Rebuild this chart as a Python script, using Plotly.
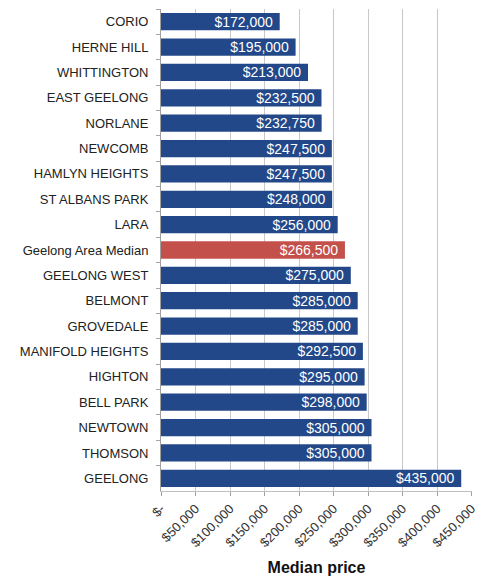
import plotly.graph_objects as go

suburbs = ["CORIO", "HERNE HILL", "WHITTINGTON", "EAST GEELONG", "NORLANE", "NEWCOMB",
           "HAMLYN HEIGHTS", "ST ALBANS PARK", "LARA", "Geelong Area Median", "GEELONG WEST",
           "BELMONT", "GROVEDALE", "MANIFOLD HEIGHTS", "HIGHTON", "BELL PARK", "NEWTOWN",
           "THOMSON", "GEELONG"]
prices = [172000, 195000, 213000, 232500, 232750, 247500, 247500, 248000, 256000, 266500,
          275000, 285000, 285000, 292500, 295000, 298000, 305000, 305000, 435000]
highlight = "Geelong Area Median"
tick_vals = [0, 50000, 100000, 150000, 200000, 250000, 300000, 350000, 400000, 450000]
tick_text = ["$-", "$50,000", "$100,000", "$150,000", "$200,000", "$250,000", "$300,000",
             "$350,000", "$400,000", "$450,000"]

colors = ["#c4504c" if s == highlight else "#22488a" for s in suburbs]
labels = ["${:,}\u00a0".format(p) for p in prices]

fig = go.Figure(go.Bar(
    x=prices, y=suburbs, orientation="h",
    marker=dict(color=colors, line=dict(width=0)),
    text=labels, textposition="inside", insidetextanchor="end",
    textfont=dict(color="white", size=14, family="Liberation Sans"),
    constraintext="none",
    width=0.68,
))

fig.update_layout(
    width=479, height=576,
    margin=dict(l=161, r=7, t=9, b=85),
    paper_bgcolor="white", plot_bgcolor="white",
    showlegend=False,
    font=dict(family="Liberation Sans", size=13, color="#222222"),
)
fig.update_yaxes(
    autorange="reversed", ticks="outside", tickson="boundaries", ticklen=4,
    tickcolor="#b0a0a0", showline=True, linecolor="#a0a0a0", linewidth=1,
    tickfont=dict(size=13, color="#222222"), ticklabelstandoff=9, automargin=False,
)
fig.update_xaxes(
    range=[0, 450600], tickvals=tick_vals, ticktext=tick_text, tickangle=-45,
    showgrid=True, gridcolor="#c8c8c8", gridwidth=1,
    ticks="outside", ticklen=4, tickcolor="#a0a0a0",
    showline=True, linecolor="#c0c0c0", ticklabeloverflow="allow", automargin=False,
    tickfont=dict(size=13, color="#333333"),
    title=dict(text="<b>Median price</b>", font=dict(size=16, color="#111111"), standoff=14),
    zeroline=False,
)

fig.write_html("out.html")
